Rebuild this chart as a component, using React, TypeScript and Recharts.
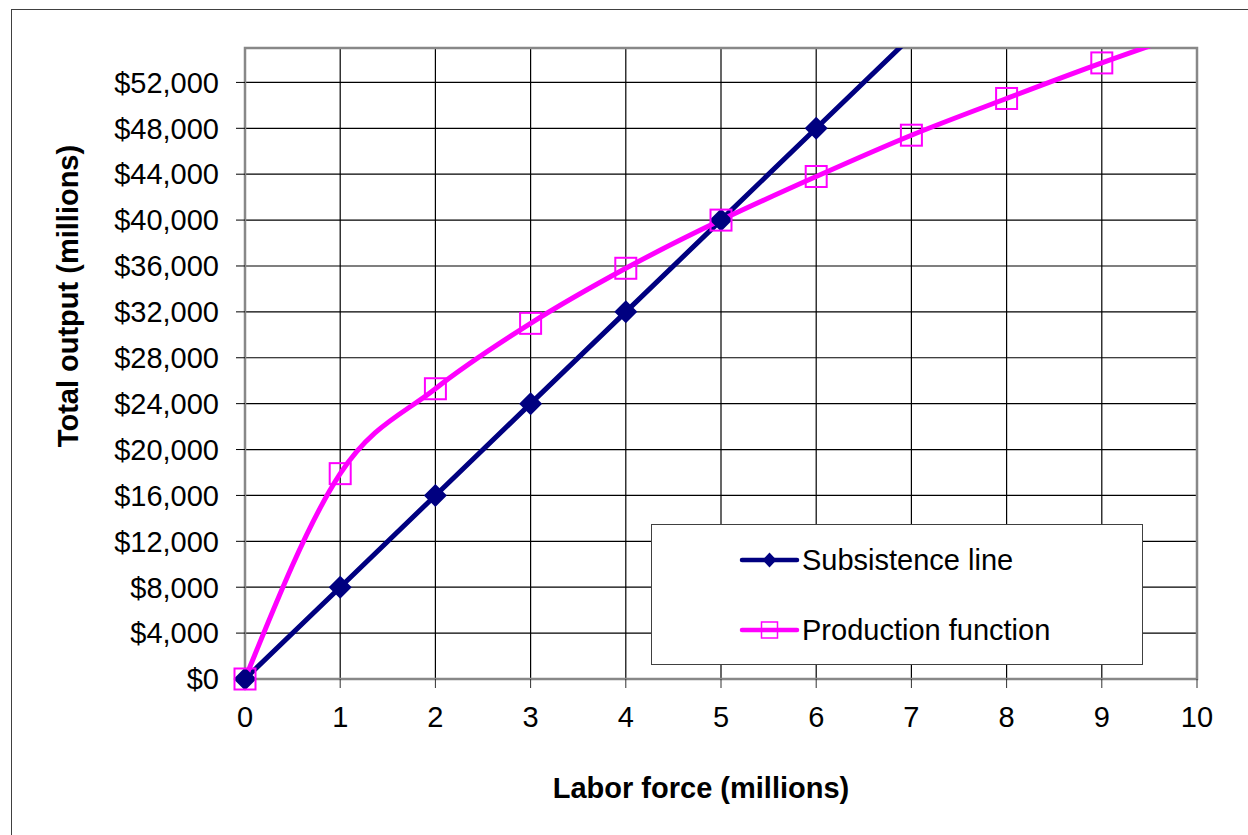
import React from "react";
import { CartesianGrid, Line, LineChart, ReferenceArea, XAxis, YAxis } from "recharts";

// labor force in millions, output in $ millions
const laborForce = [0, 1, 2, 3, 4, 5, 6, 7, 8, 9, 10];
const subsistence = [0, 8000, 16000, 24000, 32000, 40000, 48000, 56000, null, null, null];
const production = [0, 17900, 25300, 31000, 35800, 40000, 43800, 47400, 50600, 53700, 56600];
const xTicks = [0, 1, 2, 3, 4, 5, 6, 7, 8, 9, 10];
const yTicks = [0, 4000, 8000, 12000, 16000, 20000, 24000, 28000, 32000, 36000, 40000, 44000, 48000, 52000];
const seriesNames = ["Subsistence line", "Production function"];
const Y_MAX = 55000;

const NAVY = "#000080";
const MAGENTA = "#FF00FF";
const FONT = '"Liberation Sans", Arial, sans-serif';

const inRange = (v: number | null) => (v != null && v <= Y_MAX ? v : null);

const data = laborForce.map((x, i) => ({
  x,
  subsistence: subsistence[i],
  production: production[i],
  subMark: inRange(subsistence[i]),
  prodMark: inRange(production[i]),
}));

const fmtDollar = (v: number) => "$" + v.toLocaleString("en-US");

function diamondDot(props: any) {
  const { cx, cy, value, index } = props;
  if (value == null || cx == null || cy == null) return <g key={"d" + index} />;
  const r = 11.5;
  return (
    <path
      key={"d" + index}
      d={`M${cx},${cy - r}L${cx + r},${cy}L${cx},${cy + r}L${cx - r},${cy}Z`}
      fill={NAVY}
    />
  );
}

function squareDot(props: any) {
  const { cx, cy, value, index } = props;
  if (value == null || cx == null || cy == null) return <g key={"s" + index} />;
  const h = 10.5;
  return (
    <rect
      key={"s" + index}
      x={cx - h}
      y={cy - h}
      width={h * 2}
      height={h * 2}
      fill="none"
      stroke={MAGENTA}
      strokeWidth={2}
    />
  );
}

function LegendBox() {
  return (
    <div
      style={{
        position: "absolute",
        left: 651,
        top: 524,
        width: 492,
        height: 141,
        boxSizing: "border-box",
        border: "1px solid #404040",
        background: "#fff",
      }}
    >
      <svg width={490} height={139} style={{ display: "block" }}>
        <line x1={90} x2={145} y1={35} y2={35} stroke={NAVY} strokeWidth={4.5} strokeLinecap="round" />
        <path d="M117.5,27.5L124.5,35L117.5,42.5L110.5,35Z" fill={NAVY} />
        <text x={150} y={35} fontSize={29} fontFamily={FONT} dominantBaseline="central" fill="#000">
          {seriesNames[0]}
        </text>
        <line x1={90} x2={145} y1={105} y2={105} stroke={MAGENTA} strokeWidth={4.5} strokeLinecap="round" />
        <rect x={109.5} y={97} width={16} height={16} fill="none" stroke={MAGENTA} strokeWidth={1.5} />
        <text x={150} y={105} fontSize={29} fontFamily={FONT} dominantBaseline="central" fill="#000">
          {seriesNames[1]}
        </text>
      </svg>
    </div>
  );
}

export default function App() {
  return (
    <div
      style={{
        position: "absolute",
        left: 0,
        top: 0,
        width: 1248,
        height: 835,
        overflow: "hidden",
        background: "#fff",
        fontFamily: FONT,
      }}
    >
      <div
        style={{
          position: "absolute",
          left: 11,
          top: 9,
          width: 1300,
          height: 900,
          border: "1px solid #404040",
        }}
      />
      <div style={{ position: "absolute", left: 0, top: 0 }}>
        <LineChart
          width={1248}
          height={835}
          data={data}
          margin={{ top: 48, right: 51, bottom: 96, left: 45 }}
        >
          <CartesianGrid yAxisId="left" stroke="#000" strokeWidth={1.2} />
          <XAxis
            type="number"
            dataKey="x"
            domain={[0, 10]}
            ticks={xTicks}
            interval={0}
            height={60}
            axisLine={false}
            tickLine={{ stroke: "#333" }}
            tickSize={9}
            tickMargin={18}
            tick={{ fill: "#000", fontSize: 29, fontFamily: FONT }}
          />
          <YAxis
            yAxisId="left"
            type="number"
            domain={[0, Y_MAX]}
            ticks={yTicks}
            interval={0}
            allowDataOverflow
            width={200}
            axisLine={false}
            tickLine={{ stroke: "#000" }}
            tickSize={9}
            tickMargin={17}
            tickFormatter={fmtDollar}
            tick={{ fill: "#000", fontSize: 29, fontFamily: FONT }}
          />
          <YAxis yAxisId="marks" type="number" domain={[0, Y_MAX]} hide />
          <ReferenceArea
            yAxisId="left"
            x1={0}
            x2={10}
            y1={0}
            y2={Y_MAX}
            fill="none"
            stroke="#888"
            strokeWidth={2.5}
          />
          <Line
            yAxisId="left"
            type="linear"
            dataKey="subsistence"
            stroke={NAVY}
            strokeWidth={5}
            dot={false}
            activeDot={false}
            isAnimationActive={false}
          />
          <Line
            yAxisId="left"
            type="monotone"
            dataKey="production"
            stroke={MAGENTA}
            strokeWidth={5}
            dot={false}
            activeDot={false}
            isAnimationActive={false}
          />
          <Line
            yAxisId="marks"
            dataKey="subMark"
            stroke="none"
            dot={diamondDot}
            activeDot={false}
            legendType="none"
            isAnimationActive={false}
          />
          <Line
            yAxisId="marks"
            dataKey="prodMark"
            stroke="none"
            dot={squareDot}
            activeDot={false}
            legendType="none"
            isAnimationActive={false}
          />
          <text
            x={78}
            y={296}
            transform="rotate(-90 78 296)"
            textAnchor="middle"
            fontSize={29}
            fontWeight="bold"
            fontFamily={FONT}
            fill="#000"
          >
            Total output (millions)
          </text>
          <text
            x={701}
            y={798}
            textAnchor="middle"
            fontSize={29}
            fontWeight="bold"
            fontFamily={FONT}
            fill="#000"
          >
            Labor force (millions)
          </text>
        </LineChart>
      </div>
      <LegendBox />
    </div>
  );
}
